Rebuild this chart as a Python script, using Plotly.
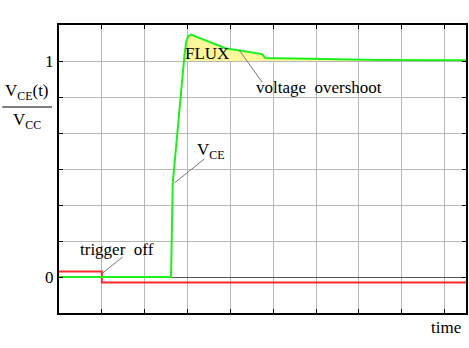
import plotly.graph_objects as go

# ---- data ----
green_t = [0, 2.615, 2.655, 2.77, 2.85, 2.93, 2.97, 3.02, 3.08, 3.28, 3.6, 3.9, 4.3, 4.74, 4.82, 5.5, 6.0, 7.5, 9.5]
green_v = [0, 0, 0.435, 0.682, 0.89, 1.03, 1.09, 1.115, 1.122, 1.106, 1.08, 1.058, 1.046, 1.032, 1.014, 1.011, 1.009, 1.005, 1.003]
red_t = [0, 1.0, 1.0, 9.5]
red_v = [0.026, 0.026, -0.025, -0.025]
x_ticks = [0, 1, 2, 3, 4, 5, 6, 7, 8, 9]
y_major = [0, 1]
y_labels = ["0", "1"]
y_minor = [-1/6, 1/6, 2/6, 3/6, 4/6, 5/6, 7/6]

FONT = "Liberation Serif"
GRID = "#b8b8b8"

# yellow overshoot area (green above 1)
fx = [t for t, v in zip(green_t, green_v) if v >= 1.0 and t >= 2.93]
fy = [v for t, v in zip(green_t, green_v) if v >= 1.0 and t >= 2.93]
fill_x = fx + [fx[-1], fx[0]]
fill_y = fy + [1.0, 1.0]

fig = go.Figure()
fig.add_trace(go.Scatter(x=fill_x, y=fill_y, fill="toself", fillcolor="#fcf79a",
                         line=dict(width=0), mode="lines", hoverinfo="skip"))
fig.add_trace(go.Scatter(x=red_t, y=red_v, mode="lines",
                         line=dict(color="#ff2a2a", width=2)))
fig.add_trace(go.Scatter(x=green_t, y=green_v, mode="lines",
                         line=dict(color="#1ef01e", width=2)))

W, H = 469, 348
L, R, T, B = 59, 1, 25, 35
pw, ph = W - L - R, H - T - B

def px(x):
    return (x - L) / pw

def py(y):
    return (H - B - y) / ph

ann = []
def text(x, y, s, size=17, xanchor="center"):
    ann.append(dict(x=px(x), y=py(y), xref="paper", yref="paper", text=s,
                    showarrow=False, xanchor=xanchor, yanchor="middle",
                    font=dict(family=FONT, size=size, color="black")))

text(208, 54, "FLUX")
text(320, 87, "voltage&nbsp;&nbsp;overshoot")
text(211, 151, "V<sub>CE</sub>")
text(117, 249, "trigger&nbsp;&nbsp;off")
text(465, 327, "time", xanchor="right")
text(27, 92, "V<sub>CE</sub>(t)")
text(27, 121, "V<sub>CC</sub>")

shapes = []
def seg(x0, y0, x1, y1, color="#777", width=1):
    shapes.append(dict(type="line", xref="paper", yref="paper",
                       x0=px(x0), y0=py(y0), x1=px(x1), y1=py(y1),
                       line=dict(color=color, width=width)))

seg(263, 82, 240, 50)
seg(205, 159, 175, 183)
seg(123, 257, 103, 273)
seg(2, 107, 52, 107, color="#555", width=1.5)

fig.update_layout(
    width=W, height=H,
    margin=dict(l=L, r=R, t=T, b=B),
    paper_bgcolor="white", plot_bgcolor="white",
    showlegend=False,
    annotations=ann, shapes=shapes,
    font=dict(family=FONT, size=17, color="black"),
)
fig.update_xaxes(range=[0, 9.5], tickmode="array", tickvals=x_ticks,
                 showticklabels=False, ticks="inside", ticklen=4,
                 tickcolor="black", showline=True, linecolor="black",
                 linewidth=2, mirror="ticks", showgrid=True,
                 gridcolor=GRID, gridwidth=1, zeroline=False)
fig.update_yaxes(range=[-1/6, 7/6], tickmode="array", tickvals=y_major,
                 ticktext=y_labels, ticks="inside", ticklen=4,
                 tickcolor="black", showline=True, linecolor="black",
                 linewidth=2, mirror="ticks", showgrid=True,
                 gridcolor=GRID, gridwidth=1,
                 minor=dict(tickmode="array", tickvals=y_minor, ticks="inside",
                            ticklen=4, tickcolor="black", showgrid=True,
                            gridcolor=GRID, gridwidth=1),
                 zeroline=True, zerolinecolor="#555", zerolinewidth=1,
                 tickfont=dict(family=FONT, size=17))

fig.write_html("out.html")
